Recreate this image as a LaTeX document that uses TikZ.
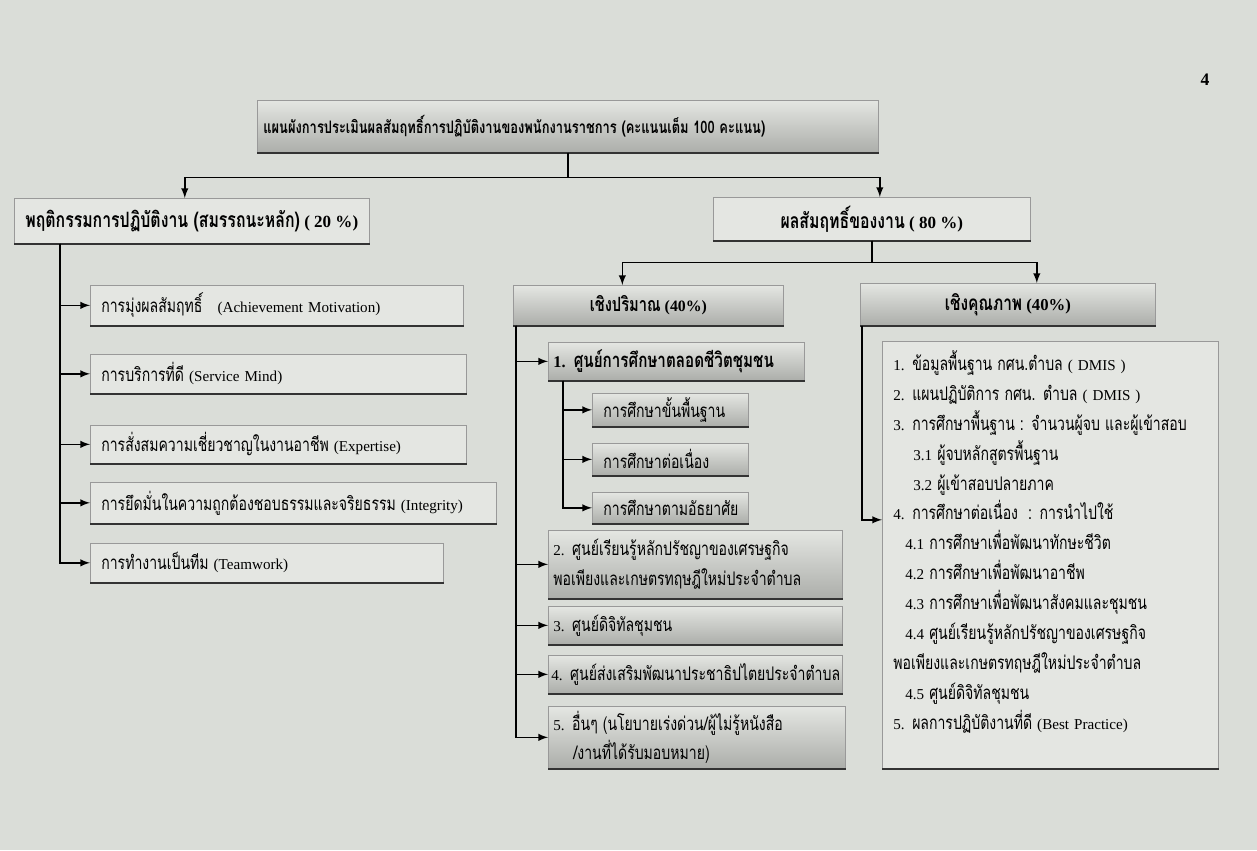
\documentclass[tikz,border=0pt]{standalone}
\usepackage{fontspec}
\setmainfont{Liberation Serif}
\newfontfamily\thaifont[Script=Thai, Scale=1.24, FakeStretch=0.75]{Loma}
\newcommand{\tf}[1]{{\thaifont #1}}
\definecolor{paper}{RGB}{218,221,216}
\definecolor{boxfill}{RGB}{228,230,226}
\definecolor{boxdark}{RGB}{172,174,170}

\tikzstyle{block} = [draw=black!40, rectangle, fill=boxfill, anchor=north west,
    inner xsep=0.22cm, inner ysep=0pt,
    append after command={(\tikzlastnode.south west) edge [draw=black!80, line width=1.2pt] (\tikzlastnode.south east)}]
\tikzstyle{sblock} = [block, top color=boxfill, bottom color=boxdark]
\tikzstyle{line} = [draw, line width=0.9pt, ->]

\begin{document}
\begin{tikzpicture}[x=0.02cm, y=-0.02cm, >=latex, font=\fontsize{8.6}{16}\selectfont]
    \fill [paper] (0,0) rectangle (1257,850);
    \useasboundingbox (0,0) rectangle (1257,850);

    \node [sblock, text width=12.18cm, align=left, inner xsep=0.12cm, minimum height=1.04cm, font=\bfseries\fontsize{7.9}{12}\selectfont] (plan) at (257,100) {\tf{แผนผังการประเมินผลสัมฤทธิ์การปฏิบัติงานของพนักงานราชการ (คะแนนเต็ม 100 คะแนน)}};
    \node [block, minimum width=7.08cm, minimum height=0.9cm, font=\bfseries\fontsize{9.7}{13}\selectfont] (beh) at (14,198) {\tf{พฤติกรรมการปฏิบัติงาน (สมรรถนะหลัก)} ( 20 \%)};
    \node [block, minimum width=6.34cm, minimum height=0.86cm, font=\bfseries\fontsize{9.7}{13}\selectfont] (res) at (713,197) {\tf{ผลสัมฤทธิ์ของงาน} ( 80 \%)};

    % behaviour
    \node [block, text width=7.02cm, align=left, minimum height=0.8cm] (b1) at (90,285) {\tf{การมุ่งผลสัมฤทธิ์}\ \ \ (Achievement Motivation)};
    \node [block, text width=7.08cm, align=left, minimum height=0.78cm] (b2) at (90,354) {\tf{การบริการที่ดี} (Service Mind)};
    \node [block, text width=7.08cm, align=left, minimum height=0.76cm] (b3) at (90,425) {\tf{การสั่งสมความเชี่ยวชาญในงานอาชีพ} (Expertise)};
    \node [block, text width=7.68cm, align=left, minimum height=0.82cm] (b4) at (90,482) {\tf{การยึดมั่นในความถูกต้องชอบธรรมและจริยธรรม} (Integrity)};
    \node [block, text width=6.62cm, align=left, minimum height=0.78cm] (b5) at (90,543) {\tf{การทำงานเป็นทีม} (Teamwork)};

    % quantity
    \node [sblock, minimum width=5.4cm, minimum height=0.8cm, font=\bfseries\fontsize{9}{13}\selectfont] (qty) at (513,285) {\tf{เชิงปริมาณ} (40\%)};
    \node [sblock, text width=4.92cm, align=left, minimum height=0.76cm, inner xsep=0.1cm, font=\bfseries\fontsize{9.3}{13}\selectfont] (q1) at (548,342) {1. \tf{ศูนย์การศึกษาตลอดชีวิตชุมชน}};
    \node [sblock, text width=2.68cm, align=left, minimum height=0.66cm] (s1) at (592,393) {\tf{การศึกษาขั้นพื้นฐาน}};
    \node [sblock, text width=2.68cm, align=left, minimum height=0.64cm] (s2) at (592,443) {\tf{การศึกษาต่อเนื่อง}};
    \node [sblock, text width=2.68cm, align=left, minimum height=0.62cm] (s3) at (592,492) {\tf{การศึกษาตามอัธยาศัย}};
    \node [sblock, text width=5.68cm, align=left, minimum height=1.36cm, inner xsep=0.1cm, font=\fontsize{8.6}{17}\selectfont] (q2) at (548,530) {2. \tf{ศูนย์เรียนรู้หลักปรัชญาของเศรษฐกิจ}\\\tf{พอเพียงและเกษตรทฤษฎีใหม่ประจำตำบล}};
    \node [sblock, text width=5.68cm, align=left, minimum height=0.76cm, inner xsep=0.1cm] (q3) at (548,606) {3. \tf{ศูนย์ดิจิทัลชุมชน}};
    \node [sblock, text width=5.76cm, align=left, minimum height=0.76cm, inner xsep=0.06cm] (q4) at (548,655) {\mbox{4. \tf{ศูนย์ส่งเสริมพัฒนาประชาธิปไตยประจำตำบล}}};
    \node [sblock, text width=5.74cm, align=left, minimum height=1.24cm, inner xsep=0.1cm, font=\fontsize{8.6}{16}\selectfont] (q5) at (548,706) {5. \tf{อื่นๆ (นโยบายเร่งด่วน/ผู้ไม่รู้หนังสือ}\\\hspace*{0.4cm}\tf{/งานที่ได้รับมอบหมาย)}};

    % quality
    \node [sblock, minimum width=5.9cm, minimum height=0.84cm, font=\bfseries\fontsize{9.5}{13}\selectfont] (qual) at (860,283) {\tf{เชิงคุณภาพ} (40\%)};
    \node [block, text width=6.28cm, align=left, minimum height=8.54cm, font=\fontsize{8.6}{17}\selectfont] (qbox) at (882,341) {%
        1. \tf{ข้อมูลพื้นฐาน กศน.ตำบล} ( DMIS )\\
        2. \tf{แผนปฏิบัติการ กศน. ตำบล} ( DMIS )\\
        3. \tf{การศึกษาพื้นฐาน : จำนวนผู้จบ และผู้เข้าสอบ}\\
        \hspace*{0.4cm}3.1 \tf{ผู้จบหลักสูตรพื้นฐาน}\\
        \hspace*{0.4cm}3.2 \tf{ผู้เข้าสอบปลายภาค}\\
        4. \tf{การศึกษาต่อเนื่อง\ \ : การนำไปใช้}\\
        \hspace*{0.24cm}4.1 \tf{การศึกษาเพื่อพัฒนาทักษะชีวิต}\\
        \hspace*{0.24cm}4.2 \tf{การศึกษาเพื่อพัฒนาอาชีพ}\\
        \hspace*{0.24cm}4.3 \tf{การศึกษาเพื่อพัฒนาสังคมและชุมชน}\\
        \hspace*{0.24cm}4.4 \tf{ศูนย์เรียนรู้หลักปรัชญาของเศรษฐกิจ}\\
        \tf{พอเพียงและเกษตรทฤษฎีใหม่ประจำตำบล}\\
        \hspace*{0.24cm}4.5 \tf{ศูนย์ดิจิทัลชุมชน}\\
        5. \tf{ผลการปฏิบัติงานที่ดี} (Best Practice)\\
        \mbox{}};

    \node [font=\bfseries\fontsize{10}{12}\selectfont] (pnum) at (1205,80) {4};

    \draw [line] (plan.south) -- ++(0,25) -| ([xshift=-0.14cm]beh.north);
    \draw [line] (plan.south) -- ++(0,25) -| ([xshift=0.16cm]res.north);
    \draw [line] (res.south) -- ++(0,22) -| ([xshift=-0.52cm]qty.north);
    \draw [line] (res.south) -- ++(0,22) -| ([xshift=0.58cm]qual.north);
    \foreach \b in {b1,b2,b3,b4,b5}
        \draw [line] (beh.south west) ++(46,0) |- (\b.west);
    \foreach \q in {q1,q2,q3,q4,q5}
        \draw [line] (qty.south west) ++(3,0) |- (\q.west);
    \foreach \s in {s1,s2,s3}
        \draw [line] (q1.south west) ++(15,0) |- (\s.west);
    \draw [line] (qual.south west) ++(2,0) |- ([yshift=0.7cm]qbox.west);
\end{tikzpicture}
\end{document}
